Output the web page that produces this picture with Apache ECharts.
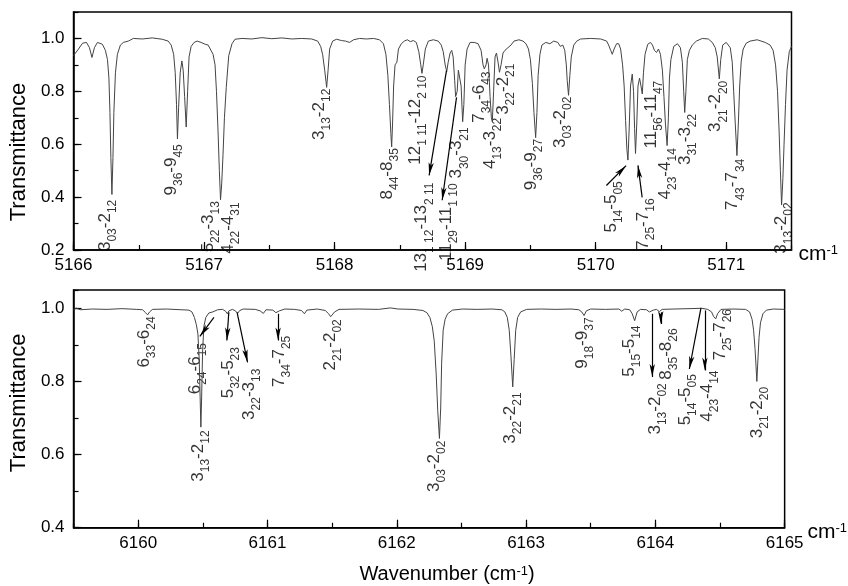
<!DOCTYPE html>
<html><head><meta charset="utf-8">
<script src="https://cdn.jsdelivr.net/npm/echarts@6/dist/echarts.min.js"></script>
<style>html,body{margin:0;padding:0;background:#fff}#c{width:848px;height:586px}</style>
</head><body><div id="c"></div>
<script>
// ---------- data ----------
const topRange = [5166, 5171.5];
const botRange = [6159.5, 6165];
const topYRange = [0.2, 1.1];
const botYRange = [0.4, 1.05];

// upper spectrum: [wavenumber, transmittance]
const topSpectrum = [
[5166.000,0.935],[5166.015,0.93],[5166.038,0.96],[5166.069,0.982],[5166.099,0.985],[5166.122,0.965],[5166.141,0.928],[5166.160,0.965],[5166.183,0.985],[5166.221,0.978],[5166.244,0.955],[5166.260,0.92],[5166.271,0.85],[5166.279,0.72],[5166.286,0.55],[5166.294,0.41],[5166.302,0.55],[5166.309,0.72],[5166.321,0.87],[5166.336,0.94],[5166.359,0.975],[5166.382,0.985],[5166.420,0.99],[5166.458,1.0],[5166.527,0.998],[5166.603,1.002],[5166.679,0.997],[5166.725,0.99],[5166.748,0.975],[5166.767,0.94],[5166.779,0.87],[5166.789,0.75],[5166.796,0.62],[5166.805,0.74],[5166.817,0.87],[5166.830,0.915],[5166.840,0.88],[5166.851,0.78],[5166.863,0.665],[5166.874,0.8],[5166.885,0.93],[5166.901,0.97],[5166.924,0.985],[5166.947,0.99],[5166.977,0.985],[5167.008,0.978],[5167.031,0.975],[5167.046,0.968],[5167.069,0.94],[5167.084,0.9],[5167.095,0.8],[5167.107,0.65],[5167.117,0.5],[5167.126,0.39],[5167.135,0.45],[5167.145,0.56],[5167.156,0.7],[5167.170,0.815],[5167.189,0.935],[5167.214,0.98],[5167.237,0.997],[5167.290,1.0],[5167.366,0.998],[5167.443,1.003],[5167.519,0.999],[5167.595,1.002],[5167.672,0.998],[5167.748,1.0],[5167.824,0.998],[5167.870,0.99],[5167.893,0.97],[5167.908,0.94],[5167.924,0.88],[5167.939,0.815],[5167.950,0.88],[5167.962,0.96],[5167.985,0.99],[5168.015,0.997],[5168.053,0.992],[5168.084,0.99],[5168.115,0.985],[5168.145,0.995],[5168.191,1.0],[5168.244,0.998],[5168.298,1.0],[5168.344,0.995],[5168.374,0.98],[5168.393,0.94],[5168.408,0.86],[5168.420,0.75],[5168.431,0.64],[5168.437,0.59],[5168.444,0.68],[5168.452,0.82],[5168.463,0.9],[5168.477,0.91],[5168.489,0.96],[5168.511,0.98],[5168.534,0.99],[5168.557,0.995],[5168.580,0.988],[5168.603,0.992],[5168.626,0.985],[5168.645,0.95],[5168.660,0.9],[5168.669,0.868],[5168.679,0.9],[5168.695,0.96],[5168.718,0.99],[5168.756,0.995],[5168.794,0.99],[5168.817,0.975],[5168.832,0.95],[5168.847,0.9],[5168.859,0.875],[5168.870,0.91],[5168.885,0.945],[5168.897,0.955],[5168.908,0.93],[5168.920,0.84],[5168.927,0.78],[5168.939,0.8],[5168.948,0.88],[5168.958,0.885],[5168.969,0.82],[5168.981,0.685],[5168.990,0.75],[5169.000,0.9],[5169.015,0.96],[5169.038,0.985],[5169.069,0.985],[5169.099,0.98],[5169.122,0.955],[5169.137,0.9],[5169.147,0.885],[5169.160,0.9],[5169.168,0.925],[5169.179,0.9],[5169.191,0.78],[5169.201,0.7],[5169.208,0.685],[5169.218,0.8],[5169.229,0.93],[5169.240,0.945],[5169.252,0.91],[5169.263,0.872],[5169.275,0.9],[5169.290,0.945],[5169.305,0.955],[5169.328,0.965],[5169.351,0.975],[5169.374,0.99],[5169.412,0.995],[5169.443,0.99],[5169.466,0.98],[5169.485,0.96],[5169.500,0.92],[5169.515,0.83],[5169.527,0.72],[5169.540,0.625],[5169.550,0.72],[5169.559,0.86],[5169.573,0.94],[5169.588,0.975],[5169.618,0.985],[5169.649,0.98],[5169.679,0.99],[5169.710,0.985],[5169.729,0.97],[5169.748,0.975],[5169.763,0.955],[5169.775,0.9],[5169.782,0.84],[5169.792,0.785],[5169.802,0.86],[5169.813,0.93],[5169.832,0.975],[5169.855,0.99],[5169.885,0.998],[5169.962,1.0],[5170.038,0.998],[5170.084,0.99],[5170.099,0.975],[5170.115,0.955],[5170.127,0.94],[5170.141,0.96],[5170.160,0.98],[5170.176,0.98],[5170.191,0.96],[5170.206,0.9],[5170.218,0.82],[5170.229,0.69],[5170.239,0.58],[5170.247,0.54],[5170.256,0.65],[5170.267,0.82],[5170.280,0.865],[5170.290,0.8],[5170.298,0.66],[5170.305,0.565],[5170.315,0.68],[5170.324,0.82],[5170.336,0.85],[5170.347,0.82],[5170.357,0.79],[5170.366,0.87],[5170.378,0.94],[5170.399,0.978],[5170.420,0.985],[5170.435,0.975],[5170.450,0.955],[5170.466,0.947],[5170.481,0.96],[5170.496,0.94],[5170.511,0.88],[5170.523,0.78],[5170.534,0.68],[5170.547,0.595],[5170.557,0.7],[5170.565,0.85],[5170.576,0.92],[5170.598,0.97],[5170.626,0.98],[5170.649,0.965],[5170.664,0.91],[5170.674,0.8],[5170.682,0.72],[5170.691,0.8],[5170.702,0.92],[5170.718,0.955],[5170.740,0.975],[5170.771,0.99],[5170.817,1.0],[5170.863,0.998],[5170.893,0.985],[5170.916,0.965],[5170.931,0.93],[5170.947,0.847],[5170.958,0.92],[5170.973,0.975],[5171.000,0.985],[5171.031,0.965],[5171.046,0.91],[5171.057,0.8],[5171.069,0.68],[5171.082,0.557],[5171.093,0.68],[5171.103,0.82],[5171.115,0.915],[5171.130,0.96],[5171.153,0.982],[5171.183,0.99],[5171.237,0.995],[5171.298,0.985],[5171.336,0.975],[5171.359,0.955],[5171.378,0.9],[5171.393,0.8],[5171.405,0.65],[5171.415,0.5],[5171.424,0.37],[5171.434,0.47],[5171.443,0.6],[5171.454,0.75],[5171.466,0.88],[5171.483,0.95],[5171.500,0.97]
];

// lower spectrum: [wavenumber, transmittance]
const botSpectrum = [
[6159.500,0.997],[6159.523,1.0],[6159.553,0.996],[6159.645,0.998],[6159.760,0.997],[6159.874,0.999],[6159.989,0.997],[6160.034,0.996],[6160.057,0.988],[6160.073,0.982],[6160.088,0.99],[6160.111,0.997],[6160.218,0.998],[6160.332,0.996],[6160.393,0.995],[6160.416,0.99],[6160.435,0.975],[6160.450,0.955],[6160.462,0.93],[6160.472,0.86],[6160.479,0.76],[6160.485,0.675],[6160.491,0.76],[6160.498,0.88],[6160.508,0.95],[6160.523,0.975],[6160.546,0.987],[6160.576,0.99],[6160.615,0.996],[6160.653,0.997],[6160.676,0.992],[6160.689,0.985],[6160.702,0.993],[6160.729,0.997],[6160.752,0.993],[6160.769,0.986],[6160.786,0.994],[6160.813,0.998],[6160.905,0.997],[6160.943,0.993],[6160.968,0.986],[6160.989,0.996],[6161.042,0.995],[6161.065,0.988],[6161.078,0.983],[6161.092,0.993],[6161.134,0.998],[6161.210,0.997],[6161.263,0.994],[6161.286,0.985],[6161.305,0.995],[6161.385,0.998],[6161.447,0.994],[6161.473,0.985],[6161.489,0.977],[6161.502,0.975],[6161.519,0.99],[6161.553,0.997],[6161.706,0.998],[6161.859,0.997],[6161.950,1.001],[6162.011,0.998],[6162.126,0.997],[6162.202,0.994],[6162.233,0.988],[6162.256,0.975],[6162.275,0.95],[6162.290,0.91],[6162.305,0.82],[6162.317,0.72],[6162.330,0.644],[6162.340,0.73],[6162.347,0.85],[6162.359,0.94],[6162.374,0.97],[6162.393,0.985],[6162.431,0.995],[6162.508,0.998],[6162.622,0.997],[6162.737,0.998],[6162.813,0.996],[6162.836,0.99],[6162.855,0.975],[6162.870,0.94],[6162.883,0.87],[6162.897,0.785],[6162.908,0.86],[6162.920,0.94],[6162.935,0.975],[6162.958,0.99],[6163.004,0.997],[6163.118,0.998],[6163.233,0.997],[6163.347,0.998],[6163.408,0.996],[6163.431,0.99],[6163.449,0.98],[6163.466,0.993],[6163.500,0.998],[6163.615,0.997],[6163.718,0.998],[6163.740,0.992],[6163.763,0.998],[6163.802,0.996],[6163.821,0.985],[6163.840,0.966],[6163.859,0.99],[6163.885,0.997],[6163.931,0.996],[6163.954,0.99],[6163.966,0.986],[6163.985,0.995],[6164.008,0.997],[6164.031,0.991],[6164.053,0.997],[6164.145,0.998],[6164.260,0.999],[6164.359,1.0],[6164.405,0.997],[6164.435,0.99],[6164.450,0.978],[6164.467,0.971],[6164.481,0.985],[6164.508,0.997],[6164.607,0.998],[6164.698,0.997],[6164.729,0.99],[6164.748,0.97],[6164.760,0.94],[6164.771,0.89],[6164.779,0.84],[6164.785,0.80],[6164.792,0.85],[6164.802,0.92],[6164.813,0.96],[6164.832,0.985],[6164.859,0.995],[6164.912,0.998],[6165.000,0.997]
];

// line assignments (upper panel): text, wavenumber of label centre, transmittance of label top
const topLabelText = ["3_{03}-2_{12}","9_{36}-9_{45}","5_{22}-3_{13}","4_{22}-4_{31}","3_{13}-2_{12}","8_{44}-8_{35}","12_{1 11}-12_{2 10}","13_{1 12}-13_{2 11}","11_{29}-11_{1 10}","3_{30}-3_{21}","7_{34}-6_{43}","4_{13}-3_{22}","3_{22}-2_{21}","9_{36}-9_{27}","3_{03}-2_{02}","5_{14}-5_{05}","7_{25}-7_{16}","11_{56}-11_{47}","4_{23}-4_{14}","3_{31}-3_{22}","3_{21}-2_{20}","7_{43}-7_{34}","3_{13}-2_{02}"];
const topLabelWn = [5166.252,5166.763,5167.046,5167.198,5167.893,5168.412,5168.626,5168.679,5168.870,5168.947,5169.122,5169.206,5169.305,5169.519,5169.740,5170.130,5170.374,5170.435,5170.542,5170.695,5170.931,5171.061,5171.435];
const topLabelT = [0.39,0.60,0.385,0.38,0.81,0.585,0.86,0.455,0.452,0.664,0.875,0.70,0.905,0.62,0.78,0.46,0.395,0.84,0.585,0.715,0.84,0.545,0.38];
// arrows (upper panel): [wn from, T from, wn to, T to]
const topArrows = [[5168.857,0.878,5168.724,0.482],[5168.934,0.777,5168.824,0.388],[5170.082,0.444,5170.233,0.519],[5170.356,0.399,5170.324,0.520]];

// line assignments (lower panel)
const botLabelText = ["6_{33}-6_{24}","6_{24}-6_{15}","3_{13}-2_{12}","5_{32}-5_{23}","3_{22}-3_{13}","7_{34}-7_{25}","2_{21}-2_{02}","3_{03}-2_{02}","3_{22}-2_{21}","9_{18}-9_{37}","5_{15}-5_{14}","3_{13}-2_{02}","8_{35}-8_{26}","5_{14}-5_{05}","4_{23}-4_{14}","7_{25}-7_{26}","3_{21}-2_{20}"];
const botLabelWn = [6160.060,6160.454,6160.477,6160.706,6160.874,6161.103,6161.500,6162.302,6162.889,6163.447,6163.813,6164.011,6164.095,6164.240,6164.416,6164.515,6164.798];
const botLabelT = [0.978,0.905,0.666,0.894,0.835,0.925,0.97,0.638,0.77,0.975,0.953,0.795,0.945,0.82,0.83,0.998,0.785];
const botArrows = [[6160.586,0.975,6160.477,0.923],[6160.701,0.989,6160.686,0.912],[6160.765,0.989,6160.846,0.852],[6161.082,0.985,6161.082,0.912],[6163.976,0.985,6163.976,0.812],[6164.042,0.989,6164.042,0.957],[6164.353,1.001,6164.263,0.834],[6164.383,0.994,6164.383,0.830]];

// ---------- chart ----------
const FF = 'Liberation Sans, Arial, sans-serif';
function toRich(s){
  return s.replace(/([^_{}]+)|_\{([^}]*)\}/g,(m,a,b)=> a!==undefined ? '{n|'+a+'}' : '{s|'+b+'}');
}
const labelRich = {
  n:{fontSize:17,lineHeight:20,verticalAlign:'top',fontFamily:FF,color:'#000'},
  s:{fontSize:12,lineHeight:12,padding:[10,0,0,0],verticalAlign:'top',fontFamily:FF,color:'#000'}
};
const cmRich = {
  a:{fontSize:21,lineHeight:24,fontFamily:FF,color:'#000',verticalAlign:'top'},
  b:{fontSize:13,lineHeight:13,fontFamily:FF,color:'#000',verticalAlign:'top'}
};
const tickLab = {fontSize:17,color:'#000',fontFamily:FF};
function mainX(grid, range, extra){
  return Object.assign({type:'value',gridIndex:grid,position:'bottom',min:range[0],max:range[1],
    axisLine:{show:true,onZero:false,lineStyle:{color:'#000',width:1.5}},
    axisTick:{show:true,inside:true,length:8,lineStyle:{color:'#000',width:1.2}},
    axisLabel:Object.assign({margin:7,showMaxLabel:false,showMinLabel:true,formatter:v=>String(Math.round(v))},tickLab),
    splitLine:{show:false},
    name:'{a|cm}{b|-1}',nameLocation:'end',nameGap:7,
    nameTextStyle:{rich:cmRich,padding:[12,0,0,0]}}, extra||{});
}
function minorX(grid, range, extra){
  return Object.assign({type:'value',gridIndex:grid,position:'bottom',min:range[0],max:range[1],interval:0.5,
    axisLine:{show:false,onZero:false},axisLabel:{show:false},splitLine:{show:false},
    axisTick:{show:true,inside:true,length:5,lineStyle:{color:'#000',width:1.2}}}, extra||{});
}
function mainY(grid, range, pad){
  return {type:'value',gridIndex:grid,position:'left',min:range[0],max:range[1],interval:0.2,
    axisLine:{show:true,onZero:false,lineStyle:{color:'#000',width:1.5}},
    axisTick:{show:true,inside:true,length:8,lineStyle:{color:'#000',width:1.2}},
    axisLabel:Object.assign({margin:9,showMaxLabel:false,formatter:v=>v.toFixed(1)},tickLab),
    splitLine:{show:false},
    name:'Transmittance',nameLocation:'middle',nameGap:36,
    nameTextStyle:{fontSize:22,fontFamily:FF,color:'#000',padding:pad}};
}
function minorY(grid, range){
  return {type:'value',gridIndex:grid,position:'left',min:range[0],max:range[1],interval:0.1,
    axisLine:{show:false,onZero:false},axisLabel:{show:false},splitLine:{show:false},
    axisTick:{show:true,inside:true,length:5,lineStyle:{color:'#000',width:1.2}}};
}
function arrowLine(arr){
  return {silent:true,symbol:['none','arrow'],symbolSize:[4,13],
    lineStyle:{type:'solid',color:'#000',width:1.2},itemStyle:{color:'#000'},
    label:{show:false},emphasis:{disabled:true},animation:false,
    data:arr.map(a=>[{coord:[a[0],a[1]]},{coord:[a[2],a[3]]}])};
}
function labelSeries(xi, yi, texts, wns, ts){
  return {type:'scatter',xAxisIndex:xi,yAxisIndex:yi,symbolSize:1,clip:false,silent:true,
    itemStyle:{color:'rgba(0,0,0,0)'},
    label:{show:true,position:'inside',rotate:90,align:'right',verticalAlign:'middle',rich:labelRich},
    data:texts.map((s,i)=>({value:[wns[i],ts[i]],label:{formatter:toRich(s)}}))};
}

const chart = echarts.init(document.getElementById('c'),null,{renderer:'canvas'});
chart.setOption({
  animation:false,
  backgroundColor:'#fff',
  grid:[
    {left:71,top:12,width:720.5,height:238,show:true,borderColor:'#000',borderWidth:1.5,backgroundColor:'transparent'},
    {left:71,top:290,width:720.5,height:237.7,show:true,borderColor:'#000',borderWidth:1.5,backgroundColor:'transparent'}
  ],
  xAxis:[
    mainX(0, topRange, {interval:1}),
    minorX(0, topRange),
    mainX(1, botRange, {minInterval:1,maxInterval:1,splitNumber:5,
      axisLabel:Object.assign({margin:7,showMaxLabel:true,showMinLabel:false,formatter:v=>String(Math.round(v))},tickLab)}),
    minorX(1, botRange, {name:'{w|Wavenumber (cm}{b|-1}{w|)}',nameLocation:'middle',nameGap:37,
      nameTextStyle:{padding:[0,0,0,36],rich:{w:{fontSize:20,lineHeight:24,fontFamily:FF,color:'#000',verticalAlign:'top'},b:{fontSize:13,lineHeight:13,fontFamily:FF,color:'#000',verticalAlign:'top'}}}})
  ],
  yAxis:[
    mainY(0, topYRange, [0,42,0,0]),
    minorY(0, topYRange),
    mainY(1, botYRange, [0,0,0,12]),
    minorY(1, botYRange)
  ],
  series:[
    {type:'line',xAxisIndex:0,yAxisIndex:0,data:topSpectrum,showSymbol:false,symbol:'none',
      lineStyle:{color:'#444',width:1},silent:true,markLine:arrowLine(topArrows)},
    labelSeries(0,0,topLabelText,topLabelWn,topLabelT),
    {type:'line',xAxisIndex:2,yAxisIndex:2,data:botSpectrum,showSymbol:false,symbol:'none',
      lineStyle:{color:'#444',width:1},silent:true,markLine:arrowLine(botArrows)},
    labelSeries(2,2,botLabelText,botLabelWn,botLabelT)
  ]
});
</script>
</body></html>
